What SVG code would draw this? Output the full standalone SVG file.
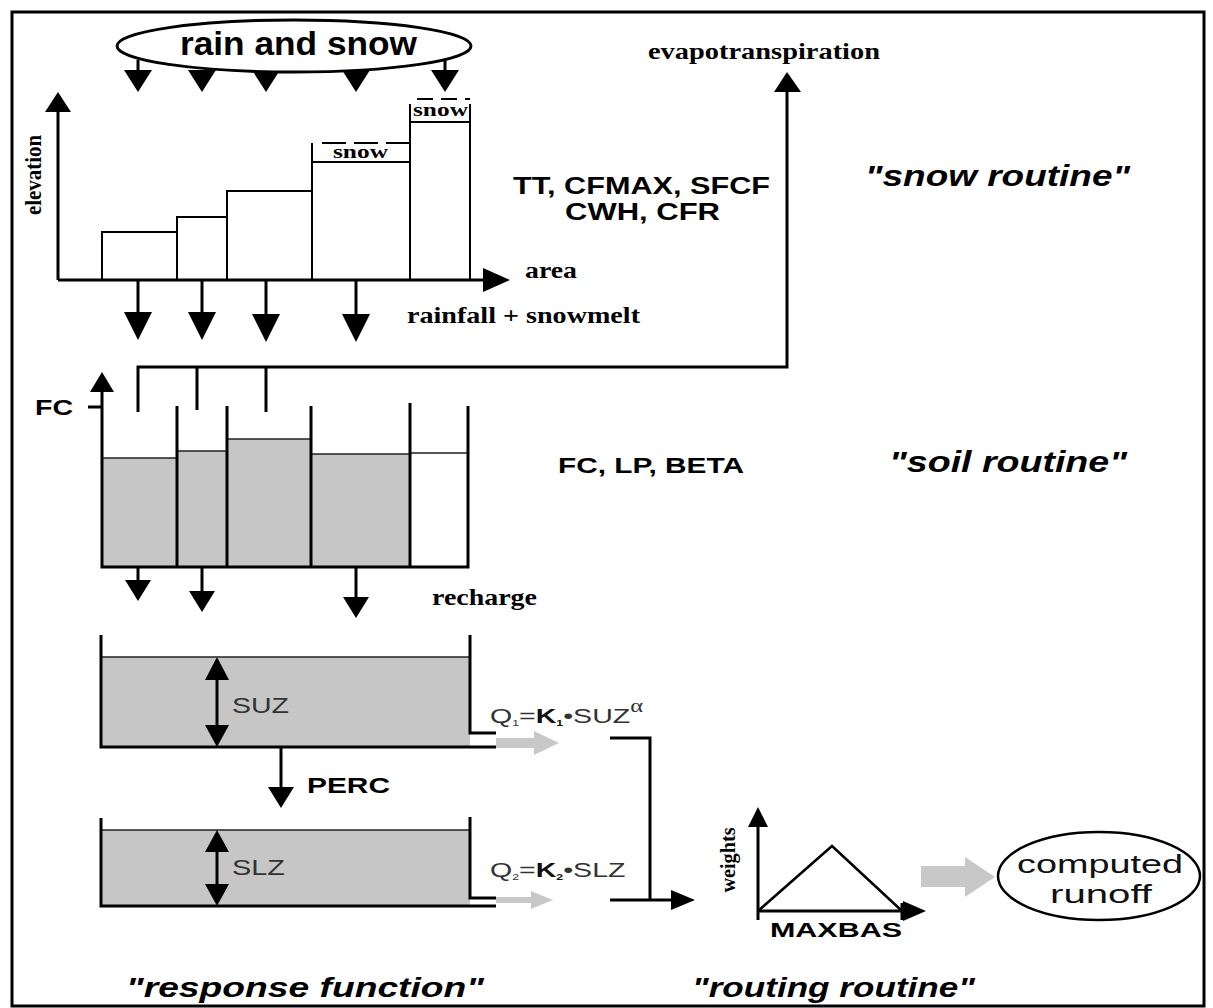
<svg xmlns="http://www.w3.org/2000/svg" width="1213" height="1008" viewBox="0 0 1213 1008">
<style>
.ln{stroke:#000;stroke-width:3;fill:none}
.thin{stroke:#000;stroke-width:2;fill:none}
.lvl{stroke:#222;stroke-width:1.6;fill:none}
.hd{fill:#000}
.wat{fill:#c6c6c6}
.gar{fill:#c8c8c8}
.sb{font-family:"Liberation Sans",Arial,sans-serif;font-weight:bold;fill:#000}
.sbi{font-family:"Liberation Sans",Arial,sans-serif;font-weight:bold;font-style:italic;fill:#000}
.rb{font-family:"Liberation Serif","Times New Roman",serif;font-weight:bold;fill:#000}
.sr{font-family:"Liberation Sans",Arial,sans-serif;fill:#333}
</style>
<rect x="0" y="0" width="1213" height="1008" fill="#fff"/>
<rect x="12" y="12" width="1192" height="994" class="ln"/>

<g id="connectors">
  <path class="ln" d="M138,60V72M445,60V72"/>
  <polygon class="hd" points="124,70 152,70 138,92"/>
  <polygon class="hd" points="188,70 216,70 202,92"/>
  <polygon class="hd" points="252,70 280,70 266,92"/>
  <polygon class="hd" points="342,70 370,70 356,92"/>
  <polygon class="hd" points="431,70 459,70 445,92"/>
  <path class="ln" d="M138,280V314M202,280V314M266,280V314M356,280V314"/>
  <polygon class="hd" points="124,312 152,312 138,340"/>
  <polygon class="hd" points="188,312 216,312 202,340"/>
  <polygon class="hd" points="252,314 280,314 266,342"/>
  <polygon class="hd" points="342,314 370,314 356,342"/>
  <path class="ln" d="M138,412V367H787V90M197,367V410M266,367V412"/>
  <polygon class="hd" points="774,92 801,92 787,72"/>
  <path class="ln" d="M138,567V582M202,567V594M356,567V599"/>
  <polygon class="hd" points="125,580 151,580 138,601"/>
  <polygon class="hd" points="189,591 215,591 202,612"/>
  <polygon class="hd" points="343,597 369,597 356,618"/>
  <path class="ln" d="M281,747V790"/>
  <polygon class="hd" points="268,787 294,787 281,808"/>
  <polygon class="gar" points="496,738 534,738 534,731 559,743 534,755 534,748 496,748"/>
  <polygon class="gar" points="496,897 531,897 531,891 553,900 531,909 531,903 496,903"/>
  <path class="ln" d="M610,738H650V900M610,900H674"/>
  <polygon class="hd" points="671,890 671,910 695,900"/>
  <polygon class="gar" points="921,866 965,866 965,857 995,877 965,897 965,887 921,887"/>
</g>

<g id="rain-snow">
  <ellipse cx="294" cy="46" rx="177" ry="26" fill="#fff" stroke="#000" stroke-width="3"/>
  <text class="sb" x="180" y="55" font-size="33" textLength="237" lengthAdjust="spacingAndGlyphs">rain and snow</text>
</g>

<g id="elevation-plot">
  <path class="ln" d="M58,280V108M58,280H486"/>
  <polygon class="hd" points="45,112 71,112 58,92"/>
  <polygon class="hd" points="483,268 483,292 510,280"/>
  <text class="rb" font-size="23" text-anchor="middle" textLength="80" lengthAdjust="spacingAndGlyphs" transform="translate(41,175) rotate(-90)">elevation</text>
  <path class="thin" d="M102,280V232H177M177,280V217H227M227,280V191H312M312,280V143M312,162H410M410,280V104M410,122H470M470,280V104"/>
  <path class="thin" d="M322,143H410" stroke-dasharray="24 8"/>
  <path class="thin" d="M417,99H470" stroke-dasharray="16 8"/>
  <text class="rb" x="333" y="158" font-size="19" textLength="55" lengthAdjust="spacingAndGlyphs">snow</text>
  <text class="rb" x="413" y="116" font-size="19" textLength="55" lengthAdjust="spacingAndGlyphs">snow</text>
  <text class="rb" x="525" y="278" font-size="23" textLength="52" lengthAdjust="spacingAndGlyphs">area</text>
  <text class="rb" x="407" y="323" font-size="24" textLength="233" lengthAdjust="spacingAndGlyphs">rainfall + snowmelt</text>
</g>

<g id="snow-labels">
  <text class="rb" x="648" y="59" font-size="23" textLength="232" lengthAdjust="spacingAndGlyphs">evapotranspiration</text>
  <text class="sb" x="513" y="194" font-size="23" textLength="257" lengthAdjust="spacingAndGlyphs">TT, CFMAX, SFCF</text>
  <text class="sb" x="565" y="220" font-size="23" textLength="155" lengthAdjust="spacingAndGlyphs">CWH, CFR</text>
  <text class="sbi" x="865" y="186" font-size="30" textLength="265" lengthAdjust="spacingAndGlyphs">"snow routine"</text>
</g>

<g id="soil">
  <rect class="wat" x="102" y="458" width="75" height="109"/>
  <rect class="wat" x="177" y="451" width="50" height="116"/>
  <rect class="wat" x="227" y="439" width="84" height="128"/>
  <rect class="wat" x="311" y="454" width="99" height="113"/>
  <path class="lvl" d="M102,458H177M177,451H227M227,439H311M311,454H410M410,453H468"/>
  <path class="ln" d="M102,392V567H468V406M177,406V567M227,406V567M311,406V567M410,403V567M88,407H102"/>
  <polygon class="hd" points="90,392 114,392 102,372"/>
  <text class="sb" x="35" y="415" font-size="22" textLength="38" lengthAdjust="spacingAndGlyphs">FC</text>
  <text class="rb" x="432" y="605" font-size="23" textLength="105" lengthAdjust="spacingAndGlyphs">recharge</text>
  <text class="sb" x="558" y="473" font-size="22" textLength="186" lengthAdjust="spacingAndGlyphs">FC, LP, BETA</text>
  <text class="sbi" x="889" y="472" font-size="30" textLength="238" lengthAdjust="spacingAndGlyphs">"soil routine"</text>
</g>

<g id="upper-zone">
  <rect class="wat" x="101" y="657" width="369" height="90"/>
  <path class="lvl" d="M101,657H470"/>
  <path class="ln" d="M101,635V747H496M470,635V733H496"/>
  <path class="ln" d="M217,675V730"/>
  <polygon class="hd" points="205,680 229,680 217,657"/>
  <polygon class="hd" points="205,725 229,725 217,747"/>
  <text class="sr" x="232" y="713" font-size="22" textLength="57" lengthAdjust="spacingAndGlyphs">SUZ</text>
  <text class="sb" x="307" y="793" font-size="22" textLength="83" lengthAdjust="spacingAndGlyphs">PERC</text>
  <text class="sr" font-size="21" transform="translate(490,723) scale(1.36,1)">Q<tspan font-size="9" dy="3">1</tspan><tspan dy="-3">=</tspan><tspan font-weight="bold" fill="#111">K</tspan><tspan font-weight="bold" fill="#111" font-size="9" dy="3">1</tspan><tspan dy="-3">•SUZ</tspan><tspan font-family="Liberation Serif,serif" font-size="18" dy="-11">α</tspan></text>
</g>

<g id="lower-zone">
  <rect class="wat" x="101" y="830" width="369" height="76"/>
  <path class="lvl" d="M101,830H470"/>
  <path class="ln" d="M101,818V906H496M470,817V898H496"/>
  <path class="ln" d="M217,848V890"/>
  <polygon class="hd" points="205,852 229,852 217,830"/>
  <polygon class="hd" points="205,884 229,884 217,906"/>
  <text class="sr" x="232" y="875" font-size="22" textLength="53" lengthAdjust="spacingAndGlyphs">SLZ</text>
  <text class="sr" font-size="21" transform="translate(490,877) scale(1.36,1)">Q<tspan font-size="9" dy="3">2</tspan><tspan dy="-3">=</tspan><tspan font-weight="bold" fill="#111">K</tspan><tspan font-weight="bold" fill="#111" font-size="9" dy="3">2</tspan><tspan dy="-3">•SLZ</tspan></text>
  <text class="sbi" x="126" y="997" font-size="28" textLength="358" lengthAdjust="spacingAndGlyphs">"response function"</text>
</g>

<g id="routing">
  <path class="ln" d="M758,920V825M758,911H905M902,903V920"/>
  <polygon class="hd" points="748,827 768,827 758,807"/>
  <polygon class="hd" points="903,901 903,921 926,911"/>
  <path d="M758,911L832,846L902,911" fill="none" stroke="#000" stroke-width="2.5"/>
  <text class="rb" font-size="21" text-anchor="middle" textLength="65" lengthAdjust="spacingAndGlyphs" transform="translate(735,860) rotate(-90)">weights</text>
  <text class="sb" x="770" y="937" font-size="21" textLength="132" lengthAdjust="spacingAndGlyphs">MAXBAS</text>
  <text class="sbi" x="692" y="997" font-size="28" textLength="283" lengthAdjust="spacingAndGlyphs">"routing routine"</text>
</g>

<g id="computed-runoff">
  <ellipse cx="1099" cy="876" rx="101" ry="44" fill="#fff" stroke="#000" stroke-width="2.5"/>
  <text x="1017" y="873" font-family="Liberation Sans,Arial,sans-serif" font-size="25" fill="#111" textLength="166" lengthAdjust="spacingAndGlyphs">computed</text>
  <text x="1050" y="903" font-family="Liberation Sans,Arial,sans-serif" font-size="25" fill="#111" textLength="102" lengthAdjust="spacingAndGlyphs">runoff</text>
</g>
</svg>
